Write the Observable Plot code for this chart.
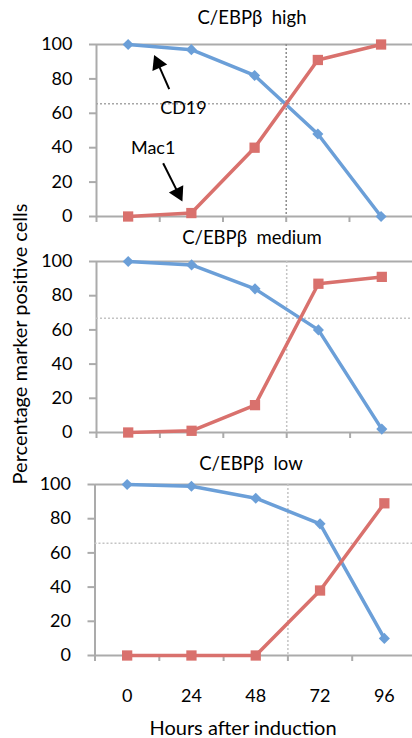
<!DOCTYPE html>
<html>
<head>
<meta charset="utf-8">
<script src="https://cdn.jsdelivr.net/npm/d3@7"></script>
<script src="https://cdn.jsdelivr.net/npm/@observablehq/plot@0.6"></script>
<style>
  html, body { margin: 0; padding: 0; background: #fff; }
  #chart { position: relative; width: 412px; height: 738px; overflow: hidden; font-family: Lato, "Open Sans", sans-serif; color: #000; }
  #chart svg { position: absolute; left: 0; background: transparent; overflow: visible; }
  .txt { position: absolute; white-space: pre; font-size: 18px; line-height: 1; }
  .axt { font-size: 20px; }
</style>
</head>
<body>
<div id="chart"></div>
<script>
// ---- data ----
const hours = [0, 24, 48, 72, 96];
const panelTitles = ["C/EBP\u03b2  high", "C/EBP\u03b2  medium", "C/EBP\u03b2  low"];
const cd19High = [100, 97, 82, 48, 0];
const mac1High = [0, 2, 40, 91, 100];
const cd19Medium = [100, 98, 84, 60, 2];
const mac1Medium = [0, 1, 16, 87, 91];
const cd19Low = [100, 99, 92, 77, 10];
const mac1Low = [0, 0, 0, 38, 89];
const crossHour = [60, 60, 60];
const crossPct = [65.5, 66.8, 65.7];
const yTicks = [0, 20, 40, 60, 80, 100];
const xBoundaries = [-12, 12, 36, 60, 84];
// annotation anchors (hours, percent) for the arrow labels in the top panel
const annoLabels = [{name: "CD19", x: 21, y: 63}, {name: "Mac1", x: 9.5, y: 39.5}];
const annoArrows = [
  {x1: 15.6, y1: 74, x2: 11.3, y2: 89, rotate: -24},
  {x1: 13.3, y1: 31, x2: 19, y2: 13.6, rotate: 153}
];

const blue = "#6b9fd8";
const red = "#d9716d";
const axisGray = "#ababab";

const panels = [
  {cd19: cd19High, mac1: mac1High, top: 0, mt: 44, mb: 10, fh: 172, xr: [96, 412.2], vcol: "#8c8c8c", hcol: "#a6a6a6", title: [252, 8]},
  {cd19: cd19Medium, mac1: mac1Medium, top: 230, mt: 31, mb: 10, fh: 171, xr: [96, 413], vcol: "#c4c4c4", hcol: "#c4c4c4", title: [252, 228]},
  {cd19: cd19Low, mac1: mac1Low, top: 450, mt: 34, mb: 83, fh: 171, xr: [94.5, 416], vcol: "#c4c4c4", hcol: "#c4c4c4", title: [251, 454]}
];

const chart = document.getElementById("chart");

panels.forEach((p, i) => {
  const rows = hours.map((h, j) => ({h, cd19: p.cd19[j], mac1: p.mac1[j]}));
  const marks = [
    Plot.ruleY([100], {stroke: axisGray, strokeWidth: 2}),
    Plot.ruleY([0], {stroke: axisGray, strokeWidth: 2}),
    Plot.ruleX([-12], {stroke: axisGray, strokeWidth: 2}),
    Plot.ruleX([crossHour[i]], {stroke: p.vcol, strokeWidth: 1.5, strokeDasharray: "2,2"}),
    Plot.ruleY([crossPct[i]], {x1: -12, x2: 120, stroke: p.hcol, strokeWidth: 1.5, strokeDasharray: "2,2"}),
    Plot.axisY({ticks: yTicks, tickSize: 7, tickPadding: 17, stroke: axisGray, strokeWidth: 2, fill: "#000", fontSize: 18, label: null}),
    Plot.axisX({ticks: xBoundaries, tickSize: 6, tickFormat: () => "", stroke: axisGray, strokeWidth: 2, label: null}),
    Plot.line(rows, {x: "h", y: "cd19", stroke: blue, strokeWidth: 3.5}),
    Plot.line(rows, {x: "h", y: "mac1", stroke: red, strokeWidth: 3.5}),
    Plot.dot(rows, {x: "h", y: "cd19", symbol: "diamond2", r: 5, fill: blue, stroke: null}),
    Plot.dot(rows, {x: "h", y: "mac1", symbol: "square", r: 5.8, fill: red, stroke: null})
  ];
  if (i === 2) {
    marks.push(Plot.axisX({ticks: hours, tickSize: 0, tickPadding: 34, fill: "#000", fontSize: 18, label: null}));
  }
  if (i === 0) {
    marks.push(Plot.text(annoLabels, {x: "x", y: "y", text: "name", fontSize: 18, fill: "#000"}));
    marks.push(Plot.link(annoArrows, {x1: "x1", y1: "y1", x2: "x2", y2: "y2", stroke: "#000", strokeWidth: 2}));
    marks.push(Plot.dot(annoArrows, {x: "x2", y: "y2", rotate: "rotate", symbol: "triangle", r: 6, fill: "#000", stroke: null}));
  }
  const svg = Plot.plot({
    width: 412,
    height: p.mt + p.fh + p.mb,
    marginTop: p.mt,
    marginBottom: p.mb,
    marginLeft: p.xr[0],
    marginRight: 0,
    style: {fontFamily: "Lato, 'Open Sans', sans-serif", fontSize: "18px", color: "#000", background: "transparent", overflow: "visible"},
    x: {type: "linear", domain: [-12, 108], range: p.xr, axis: null},
    y: {domain: [0, 100], axis: null},
    marks
  });
  svg.style.top = p.top + "px";
  chart.appendChild(svg);

  const t = document.createElement("div");
  t.className = "txt";
  t.textContent = panelTitles[i];
  t.style.fontSize = "18.5px";
  t.style.left = p.title[0] + "px";
  t.style.top = p.title[1] + "px";
  t.style.transform = "translateX(-50%)";
  chart.appendChild(t);
});

const xl = document.createElement("div");
xl.className = "txt axt";
xl.textContent = "Hours after induction";
xl.style.left = "243px";
xl.style.top = "717px";
xl.style.transform = "translateX(-50%)";
chart.appendChild(xl);

const yl = document.createElement("div");
yl.className = "txt axt";
yl.textContent = "Percentage marker positive cells";
yl.style.left = "19px";
yl.style.top = "344px";
yl.style.transform = "translate(-50%, -50%) rotate(-90deg)";
chart.appendChild(yl);
</script>
</body>
</html>
